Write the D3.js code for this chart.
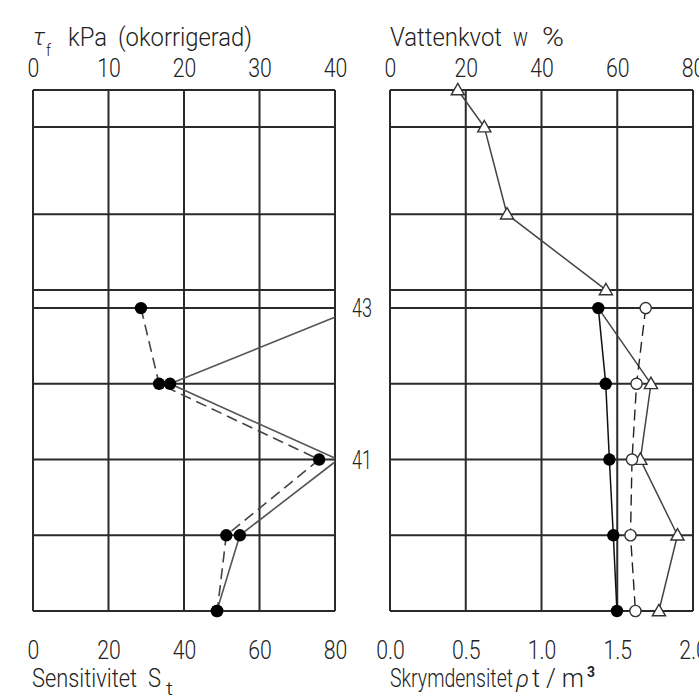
<!DOCTYPE html>
<html>
<head>
<meta charset="utf-8">
<script src="https://cdn.jsdelivr.net/npm/d3@7"></script>
<style>
  html, body { margin: 0; padding: 0; background: #fff; }
  svg { display: block; }
  text { font-family: Roboto, "Open Sans", "DejaVu Sans", sans-serif; font-weight: 300; fill: #222; }
</style>
</head>
<body>
<svg id="chart" width="699" height="698"></svg>
<script>
// ---------------- data ----------------
// sample levels (elevation, m) that get a horizontal line
const gridLevels = [45.88, 45.39, 44.24, 43.24, 43, 42, 41, 40, 39];
const levelLabels = [43, 41];

// left panel: shear strength tau_f (kPa, top axis) and sensitivity St (bottom axis)
const tauLevels = [43, 42, 41, 40, 39];
const tauValues = [14.3, 16.7, 37.9, 25.6, 24.4];
const stLevels = [43, 42, 41, 40, 39];
const stValues = [86, 36.3, 80.8, 54.8, 48.7];

// right panel: water content w (%, top axis), liquid limit (open circles, %), bulk density (t/m3, bottom axis)
const wLevels = [45.88, 45.39, 44.24, 43.24, 42, 41, 40, 39];
const wValues = [17.9, 24.9, 30.9, 57.0, 68.9, 66.1, 75.9, 71.0];
const wlLevels = [43, 42, 41, 40, 39];
const wlValues = [67.5, 65.1, 63.9, 63.5, 64.8];
const rhoLevels = [43, 42, 41, 40, 39];
const rhoValues = [1.375, 1.424, 1.448, 1.474, 1.498];

const tauTicks = [0, 10, 20, 30, 40];
const stTicks = [0, 20, 40, 60, 80];
const wTicks = [0, 20, 40, 60, 80];
const rhoTicks = [0.0, 0.5, 1.0, 1.5, 2.0];

// ---------------- layout ----------------
const svg = d3.select("#chart");
const yTop = 90, yBot = 611;
const L = { x0: 33, x1: 335 };
const R = { x0: 390, x1: 693 };

const y = d3.scaleLinear().domain([39, 45.88]).range([yBot, yTop]);
const xTau = d3.scaleLinear().domain([0, 40]).range([L.x0, L.x1]);
const xSt = d3.scaleLinear().domain([0, 80]).range([L.x0, L.x1]);
const xW = d3.scaleLinear().domain([0, 80]).range([R.x0, R.x1]);
const xRho = d3.scaleLinear().domain([0, 2]).range([R.x0, R.x1]);

const gridColor = "#2a2a2a";
const fontSize = 25;
const squeeze = 0.85;

const defs = svg.append("defs");
defs.append("clipPath").attr("id", "clipL").append("rect")
  .attr("x", L.x0).attr("y", yTop - 10).attr("width", L.x1 - L.x0).attr("height", yBot - yTop + 20);
defs.append("clipPath").attr("id", "clipR").append("rect")
  .attr("x", R.x0 - 10).attr("y", yTop - 10).attr("width", R.x1 - R.x0 + 20).attr("height", yBot - yTop + 20);

function panelGrid(xs, xTickVals, P) {
  const g = svg.append("g");
  g.selectAll("line.h").data(gridLevels).join("line")
    .attr("x1", P.x0).attr("x2", P.x1)
    .attr("y1", d => y(d)).attr("y2", d => y(d))
    .attr("stroke", gridColor).attr("stroke-width", 2);
  g.selectAll("line.v").data(xTickVals).join("line")
    .attr("x1", d => xs(d)).attr("x2", d => xs(d))
    .attr("y1", yTop).attr("y2", yBot)
    .attr("stroke", gridColor).attr("stroke-width", 2);
}
panelGrid(xTau, tauTicks, L);
panelGrid(xW, wTicks, R);

// axes (tick labels only)
function axisLabels(axisFn, scale, ticks, fmt, yPos) {
  const ax = axisFn(scale).tickValues(ticks).tickSize(0).tickPadding(0).tickFormat(fmt);
  const g = svg.append("g").attr("transform", `translate(0,${yPos})`).call(ax);
  g.select(".domain").remove();
  g.attr("font-family", null).attr("font-size", null);
  g.selectAll("text").attr("font-size", fontSize).attr("y", 0).attr("dy", 0)
    .attr("fill", "#222").attr("transform", `scale(${squeeze},1)`);
}
axisLabels(d3.axisTop, xTau, tauTicks, d3.format("d"), 77);
axisLabels(d3.axisTop, xW, wTicks, d3.format("d"), 77);
axisLabels(d3.axisBottom, xSt, stTicks, d3.format("d"), 659);
axisLabels(d3.axisBottom, xRho, rhoTicks, d3.format(".1f"), 659);

// multi-part title: one text element, each part pinned to x / width
function title(parts, baseY) {
  const t = svg.append("text").attr("y", baseY).attr("font-size", fontSize);
  parts.forEach(p => {
    const s = t.append("tspan").attr("x", p.x).attr("y", baseY + (p.dy || 0)).text(p.s);
    if (p.len) s.attr("textLength", p.len).attr("lengthAdjust", p.adjust || "spacingAndGlyphs");
    if (p.size) s.attr("font-size", p.size);
    if (p.italic) s.attr("font-style", "italic");
    if (p.bold) s.attr("font-weight", 700);
  });
  return t;
}

title([
  { s: "τ", x: 33, dy: -1, len: 12, size: 24, italic: true },
  { s: "f", x: 46, dy: 10, len: 5, size: 17 },
  { s: "kPa", x: 68, len: 39 },
  { s: "(okorrigerad)", x: 118, len: 134 }
], 46);
title([
  { s: "Vattenkvot", x: 390, len: 112 },
  { s: "w", x: 513, len: 15 },
  { s: "%", x: 542, len: 22 }
], 46);
title([
  { s: "Sensitivitet", x: 32, len: 105 },
  { s: "S", x: 148, len: 13 },
  { s: "t", x: 166, dy: 8, len: 7, size: 18 }
], 687);
title([
  { s: "Skrymdensitet", x: 390, len: 123 },
  { s: "ρ", x: 516, len: 13, size: 24, italic: true },
  { s: "t/m", x: 532, len: 52, adjust: "spacing" },
  { s: "3", x: 587, dy: -10, len: 8, size: 15, bold: true }
], 687);

// level labels
svg.selectAll("text.lvl").data(levelLabels).join("text")
  .attr("class", "lvl")
  .attr("x", 362).attr("y", d => y(d) + 9)
  .attr("text-anchor", "middle").attr("font-size", 25)
  .attr("textLength", 20).attr("lengthAdjust", "spacingAndGlyphs")
  .text(d => d);

// ---------------- series ----------------
const zip = (lv, vs) => lv.map((l, i) => ({ level: l, value: vs[i] }));

// left panel
const gL = svg.append("g").attr("clip-path", "url(#clipL)");
const tauData = zip(tauLevels, tauValues);
const stData = zip(stLevels, stValues);

gL.append("path").datum(stData)
  .attr("d", d3.line().x(d => xSt(d.value)).y(d => y(d.level)))
  .attr("fill", "none").attr("stroke", "#555").attr("stroke-width", 1.6);
gL.append("path").datum(tauData)
  .attr("d", d3.line().x(d => xTau(d.value)).y(d => y(d.level)))
  .attr("fill", "none").attr("stroke", "#444").attr("stroke-width", 1.6)
  .attr("stroke-dasharray", "11,6");
gL.selectAll("circle.st").data(stData.filter(d => d.value <= 80)).join("circle")
  .attr("cx", d => xSt(d.value)).attr("cy", d => y(d.level)).attr("r", 6.2).attr("fill", "#000");
gL.selectAll("circle.tau").data(tauData).join("circle")
  .attr("cx", d => xTau(d.value)).attr("cy", d => y(d.level)).attr("r", 6.2).attr("fill", "#000");

// right panel
const gR = svg.append("g").attr("clip-path", "url(#clipR)");
const wData = zip(wLevels, wValues);
const wlData = zip(wlLevels, wlValues);
const rhoData = zip(rhoLevels, rhoValues);

// water content line: upper part through the top four samples,
// lower part starts at the density point at level 43
const upper = wData.filter(d => d.level > 43).map(d => [xW(d.value), y(d.level)]);
const lower = [[xRho(rhoData[0].value), y(rhoData[0].level)]]
  .concat(wData.filter(d => d.level < 43).map(d => [xW(d.value), y(d.level)]));
[upper, lower].forEach(pts => {
  gR.append("path").datum(pts).attr("d", d3.line())
    .attr("fill", "none").attr("stroke", "#444").attr("stroke-width", 1.5);
});

gR.append("path").datum(wlData)
  .attr("d", d3.line().x(d => xW(d.value)).y(d => y(d.level)))
  .attr("fill", "none").attr("stroke", "#222").attr("stroke-width", 1.4)
  .attr("stroke-dasharray", "11,6");
gR.append("path").datum(rhoData)
  .attr("d", d3.line().x(d => xRho(d.value)).y(d => y(d.level)))
  .attr("fill", "none").attr("stroke", "#111").attr("stroke-width", 1.5);

const tri = d3.symbol().type(d3.symbolTriangle).size(75);
gR.selectAll("path.tri").data(wData).join("path")
  .attr("d", tri)
  .attr("transform", d => `translate(${xW(d.value)},${y(d.level) + 1})`)
  .attr("fill", "#fff").attr("stroke", "#333").attr("stroke-width", 1.4);
gR.selectAll("circle.wl").data(wlData).join("circle")
  .attr("cx", d => xW(d.value)).attr("cy", d => y(d.level)).attr("r", 5.6)
  .attr("fill", "#fff").attr("stroke", "#333").attr("stroke-width", 1.4);
gR.selectAll("circle.rho").data(rhoData).join("circle")
  .attr("cx", d => xRho(d.value)).attr("cy", d => y(d.level)).attr("r", 6.2).attr("fill", "#000");
</script>
</body>
</html>
